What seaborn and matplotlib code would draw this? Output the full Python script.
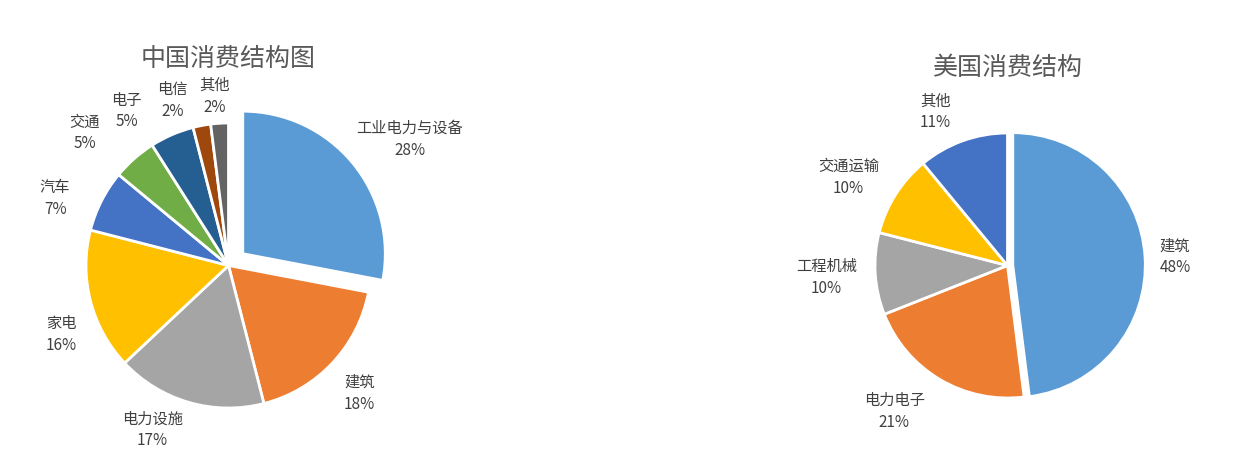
import matplotlib
matplotlib.use('Agg')
import matplotlib.pyplot as plt
import seaborn as sns

sns.set_theme(style='white')
plt.rcParams['font.family'] = ['Noto Sans CJK SC', 'DejaVu Sans']

# 中国消费结构
cn_labels = ['工业电力与设备', '建筑', '电力设施', '家电', '汽车', '交通', '电子', '电信', '其他']
cn_values = [28, 18, 17, 16, 7, 5, 5, 2, 2]
# 美国消费结构
us_labels = ['建筑', '电力电子', '工程机械', '交通运输', '其他']
us_values = [48, 21, 10, 10, 11]

office = ['#5B9BD5', '#ED7D31', '#A5A5A5', '#FFC000', '#4472C4',
          '#70AD47', '#255E91', '#9E480E', '#636363']
pal = sns.color_palette(office)

# label nudges (in pie radii) to mimic Excel's label placement
cn_nudge = [(-0.09, 0.07), (-0.03, -0.11), (0.0, -0.05), (0.05, -0.20), (-0.085, -0.05),
            (-0.14, 0.07), (-0.15, 0.03), (-0.07, 0.03), (0.08, 0.04)]
us_nudge = [(-0.04, -0.01), (-0.04, -0.11), (0.01, -0.02), (0.0, 0.05), (-0.04, 0.08)]

W, H = 1233, 463
fig = plt.figure(figsize=(W / 100, H / 100), dpi=100)
fig.patch.set_facecolor('white')


def make_ax(cx, cy, r, lim=1.7):
    # square axes so that a radius of 1 equals r pixels
    w = 2 * lim * r / W
    h = 2 * lim * r / H
    ax = fig.add_axes([cx / W - w / 2, 1 - cy / H - h / 2, w, h])
    return ax, lim


def draw_pie(ax, lim, values, labels, explode, nudge, title, title_y):
    texts = [f'{l}\n{v}%' for l, v in zip(labels, values)]
    wedges, lbls = ax.pie(values, labels=texts, colors=pal[:len(values)], startangle=90,
                          counterclock=False, explode=explode, labeldistance=1.15,
                          wedgeprops=dict(edgecolor='white', linewidth=2),
                          textprops=dict(fontsize=11, color='#404040',
                                         multialignment='center', linespacing=1.35))
    for t, (dx, dy) in zip(lbls, nudge):
        x, y = t.get_position()
        t.set_position((x + dx, y + dy))
    ax.set_xlim(-lim, lim)
    ax.set_ylim(-lim, lim)
    ax.text(0, title_y, title, ha='center', va='center', fontsize=18, color='#595959')
    ax.axis('off')


ax1, lim1 = make_ax(228.5, 265.5, 142.5)
cn_explode = [0.13] + [0] * (len(cn_values) - 1)
draw_pie(ax1, lim1, cn_values, cn_labels, cn_explode, cn_nudge, '中国消费结构图', 1.45)

ax2, lim2 = make_ax(1007.5, 265.5, 132.5)
us_explode = [0.04] + [0] * (len(us_values) - 1)
draw_pie(ax2, lim2, us_values, us_labels, us_explode, us_nudge, '美国消费结构', 1.49)

fig.savefig('out.png', dpi=100, facecolor='white')
